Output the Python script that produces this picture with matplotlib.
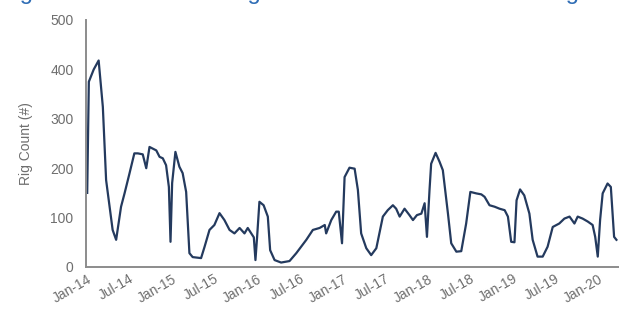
import matplotlib
matplotlib.use("Agg")
import matplotlib.pyplot as plt
import matplotlib.dates as mdates
import pandas as pd

plt.rcParams["font.family"] = ["Liberation Sans", "DejaVu Sans"]

# weekly Canadian oil rig count, sampled at the turning points
dates = [
    "2014-01-03", "2014-01-10", "2014-01-31", "2014-02-21", "2014-03-11",
    "2014-03-25", "2014-04-22", "2014-05-07", "2014-05-28", "2014-06-12",
    "2014-07-03", "2014-07-24", "2014-08-08", "2014-08-29", "2014-09-13",
    "2014-09-27", "2014-10-26", "2014-11-09", "2014-11-23", "2014-12-07",
    "2014-12-19", "2014-12-26", "2015-01-02", "2015-01-16", "2015-02-02",
    "2015-02-16", "2015-03-03", "2015-03-17", "2015-03-31", "2015-05-06",
    "2015-05-21", "2015-06-11", "2015-07-02", "2015-07-24", "2015-08-14",
    "2015-09-05", "2015-09-26", "2015-10-18", "2015-11-08", "2015-11-22",
    "2015-12-07", "2015-12-18", "2015-12-25", "2016-01-01", "2016-01-11",
    "2016-01-29", "2016-02-16", "2016-02-26", "2016-03-16", "2016-04-13",
    "2016-05-19", "2016-06-17", "2016-07-30", "2016-08-27", "2016-09-25",
    "2016-10-17", "2016-10-23", "2016-11-14", "2016-12-05", "2016-12-16",
    "2016-12-30", "2017-01-10", "2017-01-31", "2017-02-22", "2017-03-08",
    "2017-03-22", "2017-04-13", "2017-05-04", "2017-05-26", "2017-06-23",
    "2017-07-14", "2017-08-05", "2017-08-19", "2017-09-03", "2017-09-24",
    "2017-10-15", "2017-10-30", "2017-11-16", "2017-12-05", "2017-12-19",
    "2017-12-29", "2018-01-09", "2018-01-16", "2018-02-04", "2018-02-21",
    "2018-03-07", "2018-03-29", "2018-04-12", "2018-05-04", "2018-05-25",
    "2018-06-15", "2018-07-03", "2018-07-28", "2018-08-19", "2018-09-02",
    "2018-09-23", "2018-10-15", "2018-11-05", "2018-11-27", "2018-12-11",
    "2018-12-25", "2019-01-08", "2019-01-17", "2019-02-01", "2019-02-19",
    "2019-03-13", "2019-03-27", "2019-04-17", "2019-05-09", "2019-05-30",
    "2019-06-21", "2019-07-19", "2019-08-10", "2019-09-01", "2019-09-22",
    "2019-10-06", "2019-10-27", "2019-11-18", "2019-12-09", "2019-12-20",
    "2019-12-31", "2020-01-10", "2020-01-21", "2020-02-11", "2020-02-25",
    "2020-03-10", "2020-03-20",
]
rig_count = [
    150, 375, 400, 418, 324,
    176, 75, 55, 122, 149,
    189, 230, 230, 228, 200,
    243, 236, 223, 220, 206,
    162, 51, 170, 233, 203,
    190, 152, 28, 20, 18,
    41, 75, 85, 109, 95,
    75, 68, 79, 68, 79,
    68, 60, 14, 60, 132,
    125, 102, 34, 14, 9,
    12, 28, 55, 75, 79,
    85, 68, 95, 112, 112,
    48, 182, 201, 199, 156,
    68, 38, 24, 38, 102,
    115, 125, 118, 102, 118,
    105, 95, 105, 108, 129,
    61, 156, 209, 231, 213,
    196, 108, 48, 31, 32,
    88, 152, 149, 147, 142,
    125, 122, 118, 115, 102,
    51, 50, 135, 157, 145,
    108, 55, 21, 21, 41,
    81, 88, 98, 102, 88,
    102, 98, 92, 85, 61,
    21, 95, 149, 169, 162,
    61, 55,
]

x = pd.to_datetime(dates)
grey = "#6e6e6e"

fig = plt.figure(figsize=(6.19, 3.25), dpi=100)
ax = fig.add_axes([0.139, 0.1785, 0.861, 0.76])

ax.plot(x, rig_count, color="#243a5e", linewidth=1.6)

ax.set_ylim(0, 500)
ax.set_yticks(range(0, 501, 100))
ax.set_xlim(pd.Timestamp("2013-12-29"), pd.Timestamp("2020-03-31"))
ax.xaxis.set_major_locator(mdates.MonthLocator(bymonth=[1, 7]))
ax.xaxis.set_major_formatter(mdates.DateFormatter("%b-%y"))

for side in ("top", "right"):
    ax.spines[side].set_visible(False)
for side in ("left", "bottom"):
    ax.spines[side].set_color("#8c8c8c")
    ax.spines[side].set_linewidth(1.4)

ax.tick_params(axis="both", length=0, colors=grey, labelsize=10)
ax.tick_params(axis="y", pad=9)
plt.setp(ax.get_xticklabels(), rotation=30, ha="right",
         rotation_mode="anchor")
ax.set_ylabel("Rig Count (#)", color=grey, fontsize=10, labelpad=12)

# heading sits above the canvas; only its lowest strokes show
fig.text(0.0, 1.004, "Figure 3: Canada Oil Rig Count: Total Canadian Oil Rigs",
         color="#2f6db5", fontsize=17, va="baseline", ha="left")

fig.savefig("out.png", dpi=100)
